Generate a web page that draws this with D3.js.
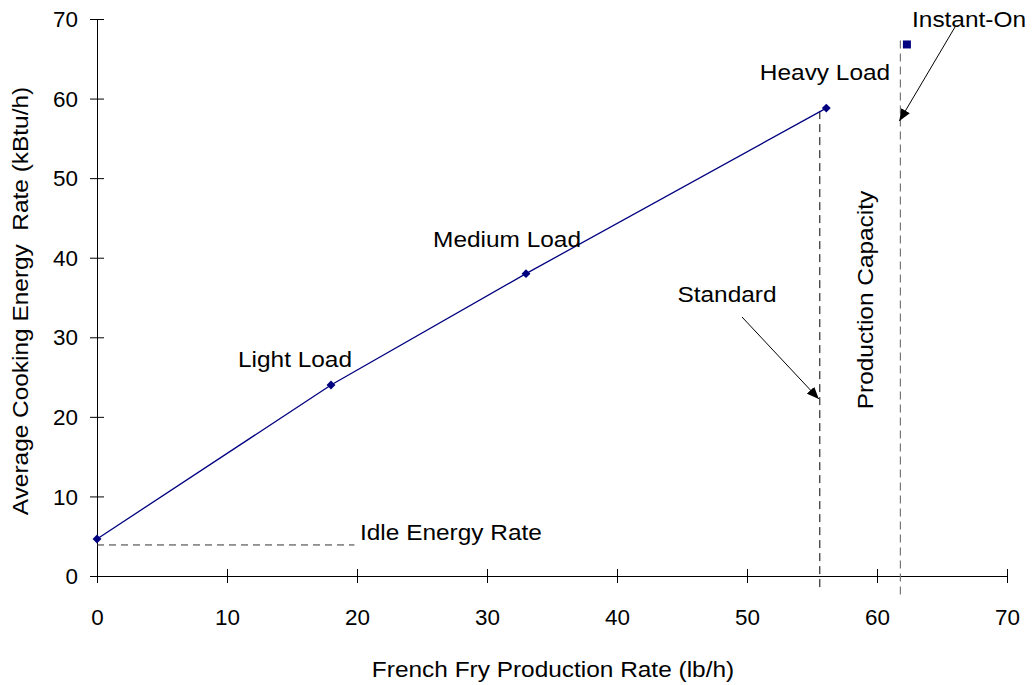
<!DOCTYPE html>
<html><head><meta charset="utf-8">
<script src="https://cdn.jsdelivr.net/npm/d3@7"></script>
<style>body{margin:0;background:#fff}svg{display:block}text{font-family:"Liberation Sans",Arial,sans-serif;fill:#000}</style>
</head><body><svg id="c" width="1033" height="685"></svg>
<script>
// Data
const loadNames = ["Idle", "Light Load", "Medium Load", "Heavy Load"];
const productionRate = [0, 18, 33, 56.1];
const energyRate = [4.65, 24.0, 38.0, 58.8];
const instantOn = [62.3, 66.8];
const idleRate = 3.9;
const idleLineEnd = 19.8;
const standardCapacity = 55.6;
const instantCapacity = 61.8;
const xTicks = [0, 10, 20, 30, 40, 50, 60, 70];
const yTicks = [0, 10, 20, 30, 40, 50, 60, 70];

const svg = d3.select("#c");
const x = d3.scaleLinear().domain([0, 70]).range([97, 1007]);
const y = d3.scaleLinear().domain([0, 70]).range([576, 19]);
const fs = "22px";
const SX = 1.11, TSX = 1.02;

svg.append("defs").append("marker").attr("id", "ah")
  .attr("viewBox", "0 0 12 10").attr("refX", 12).attr("refY", 5)
  .attr("markerWidth", 12).attr("markerHeight", 10).attr("markerUnits", "userSpaceOnUse")
  .attr("orient", "auto")
  .append("path").attr("d", "M0,0L12,5L0,10Z").attr("fill", "#000");

// axes
const xAxis = svg.append("g").attr("transform", `translate(0,${y(0)})`)
  .call(d3.axisBottom(x).tickValues(xTicks).tickSizeInner(7).tickSizeOuter(0));
xAxis.selectAll(".tick line").attr("y1", -7);
const yAxis = svg.append("g").attr("transform", `translate(${x(0)},0)`)
  .call(d3.axisLeft(y).tickValues(yTicks).tickSizeInner(7).tickSizeOuter(0));
yAxis.selectAll(".tick line").attr("x1", 7);
svg.selectAll(".domain").attr("stroke", "#000");
svg.selectAll(".tick line").attr("stroke", "#000");
svg.selectAll(".tick text").style("font-size", fs).attr("font-family", "Liberation Sans, Arial, sans-serif").attr("fill", "#000");
xAxis.selectAll(".tick text").attr("y", 0).attr("dy", 0).attr("transform", `translate(0,49) scale(${TSX},1)`);
yAxis.selectAll(".tick text").attr("x", 0).attr("dy", "0.35em").attr("transform", `translate(-19,0) scale(${TSX},1)`);

// Reference lines
svg.append("line").attr("x1", x(0)).attr("x2", x(idleLineEnd)).attr("y1", y(idleRate)).attr("y2", y(idleRate))
  .attr("stroke", "#333").attr("stroke-width", 1).attr("stroke-dasharray", "7,5");
svg.append("line").attr("x1", x(standardCapacity)).attr("x2", x(standardCapacity))
  .attr("y1", y(energyRate[3]) + 3).attr("y2", y(0) + 16)
  .attr("stroke", "#000").attr("stroke-width", 1).attr("stroke-dasharray", "8,5");
svg.append("line").attr("x1", x(instantCapacity)).attr("x2", x(instantCapacity))
  .attr("y1", y(instantOn[1]) - 4).attr("y2", y(0) + 22)
  .attr("stroke", "#777").attr("stroke-width", 1.2).attr("stroke-dasharray", "8,5");

// Series line
const pts = productionRate.map((d, i) => [d, energyRate[i]]);
svg.append("path").datum(pts)
  .attr("d", d3.line().x(d => x(d[0])).y(d => y(d[1])))
  .attr("fill", "none").attr("stroke", "#000080").attr("stroke-width", 1.3);
svg.selectAll(".pt").data(pts).join("path").attr("class", "pt")
  .attr("transform", d => `translate(${x(d[0])},${y(d[1])})`)
  .attr("d", d3.symbol(d3.symbolDiamond2, 50)).attr("fill", "#000080");
svg.append("rect").attr("x", x(instantOn[0]) - 4).attr("y", y(instantOn[1]) - 4)
  .attr("width", 8).attr("height", 8).attr("fill", "#000080");

// Labels
function lab(t, px, py, anchor, rot) {
  return svg.append("text")
    .attr("transform", `translate(${px},${py})${rot ? ` rotate(${rot})` : ""} scale(${SX},1)`)
    .attr("text-anchor", anchor || "middle")
    .style("font-size", fs).style("white-space", "pre").text(t);
}
lab(loadNames[1], 295, 367);
lab(loadNames[2], 507, 247);
lab(loadNames[3], 825, 80);
lab("Idle Energy Rate", 360, 540, "start");
lab("Standard", 727, 302);
lab("Instant-On", 969, 27);
lab("Production Capacity", 873, 300, "middle", -90);

// Arrows
svg.append("line").attr("x1", 742).attr("y1", 317).attr("x2", x(standardCapacity) - 1).attr("y2", 399)
  .attr("stroke", "#000").attr("stroke-width", 1).attr("marker-end", "url(#ah)");
svg.append("line").attr("x1", 955).attr("y1", 27).attr("x2", x(instantCapacity) - 1).attr("y2", 121)
  .attr("stroke", "#000").attr("stroke-width", 1).attr("marker-end", "url(#ah)");

// Axis titles
lab("French Fry Production Rate (lb/h)", 553, 677);
lab("Average Cooking Energy  Rate (kBtu/h)", 28, 301, "middle", -90);
</script></body></html>
